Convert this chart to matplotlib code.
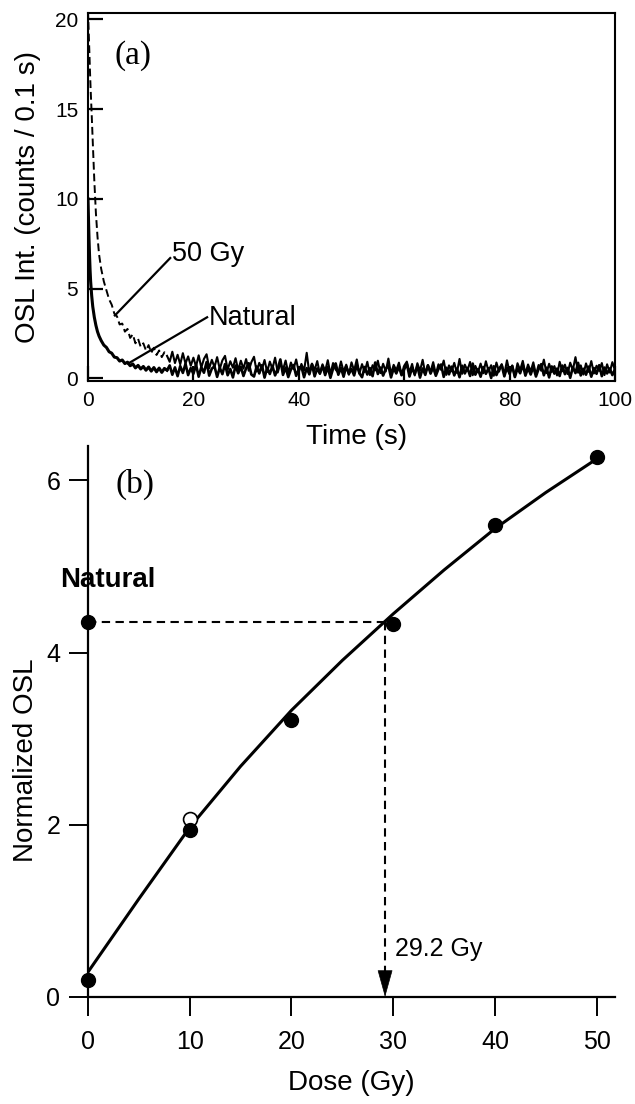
import numpy as np
import matplotlib

matplotlib.use('Agg')
import matplotlib.pyplot as plt

plt.rcParams['font.family'] = ['Liberation Sans', 'DejaVu Sans']

# ---- panel (a): OSL decay curves ----
t_early = [0, 0.1, 0.2, 0.3, 0.4, 0.5, 0.7, 0.9, 1.2, 1.5, 1.8, 2.1, 2.5,
           3.0, 3.5, 4.0, 4.5, 5.0, 5.5, 6.0, 6.5, 7.0, 7.5, 8.0, 8.5, 9.0,
           9.5, 10, 10.5, 11, 11.5, 12, 12.5, 13, 13.5, 14, 14.5, 15]
natural_early = [10.0, 8.8, 7.7, 6.8, 6.0, 5.4, 4.6, 4.0, 3.4, 2.95, 2.6, 2.35, 2.1,
                 1.85, 1.72, 1.48, 1.40, 1.18, 1.15, 0.96, 1.02, 0.82, 0.90, 0.70, 0.80, 0.58,
                 0.72, 0.52, 0.66, 0.45, 0.63, 0.40, 0.60, 0.36, 0.57, 0.33, 0.55, 0.45]
gy50_early = [20.5, 19.6, 18.7, 17.8, 16.9, 16.1, 14.7, 13.2, 11.0, 9.2, 7.9, 6.9, 6.1,
              5.4, 4.9, 4.4, 4.1, 3.6, 3.45, 3.0, 3.05, 2.6, 2.75, 2.25, 2.45, 1.95,
              2.2, 1.75, 1.95, 1.55, 1.85, 1.42, 1.70, 1.30, 1.55, 1.18, 1.45, 1.25]

# tail, every 0.5 s from 15 s to 100 s
t_tail = np.arange(15, 100.01, 0.5)
natural_tail = [
    0.45, 0.72, 0.20, 0.61, 0.12, 0.68, 0.30, 0.81, 0.18, 0.57,
    0.25, 0.76, 0.09, 0.62, 0.31, 0.90, 0.15, 0.54, 0.67, 0.08,
    0.59, 0.23, 0.79, 0.17, 0.52, 0.05, 0.71, 0.28, 0.64, 0.13,
    0.56, 0.84, 0.21, 0.10, 0.66, 0.27, 0.73, 0.04, 0.58, 0.24,
    0.69, 0.16, 0.53, 1.05, 0.19, 0.60, 0.07, 0.49, 0.74, 0.14,
    0.51, 0.65, 0.06, 0.57, 0.22, 0.78, 0.11, 0.55, 0.26, 0.70,
    0.18, 0.62, 0.03, 0.54, 0.83, 0.20, 0.59, 0.09, 0.67, 0.25,
    0.52, 0.16, 0.75, 0.28, 0.06, 0.63, 0.21, 0.57, 0.12, 0.88,
    0.24, 0.60, 0.15, 0.53, 0.71, 0.05, 0.56, 0.27, 0.66, 0.17,
    0.50, 0.80, 0.10, 0.58, 0.23, 0.68, 0.04, 0.55, 0.19, 0.72,
    0.26, 0.61, 0.14, 0.52, 0.77, 0.08, 0.59, 0.22, 0.65, 0.16,
    0.54, 0.06, 0.70, 0.27, 0.58, 0.13, 0.82, 0.20, 0.51, 0.09,
    0.63, 0.25, 0.56, 0.02, 0.67, 0.18, 0.53, 0.74, 0.11, 0.60,
    0.24, 0.69, 0.07, 0.55, 0.28, 0.76, 0.15, 0.57, 0.21, 0.64,
    0.10, 0.52, 0.79, 0.17, 0.59, 0.05, 0.66, 0.26, 0.54, 0.13,
    0.71, 0.23, 0.58, 0.03, 0.62, 0.29, 0.86, 0.16, 0.53, 0.20,
    0.65, 0.09, 0.57, 0.25, 0.73, 0.12, 0.60, 0.27, 0.55, 0.18,
    0.51]
gy50_tail = [
    1.25, 0.92, 1.48, 0.85, 1.31, 0.78, 1.40, 0.82, 1.22, 0.70,
    1.15, 0.66, 1.28, 0.60, 1.08, 1.34, 0.56, 1.03, 0.62, 1.18,
    0.52, 1.00, 1.25, 0.48, 0.95, 0.59, 1.12, 0.45, 0.98, 0.54,
    1.07, 0.42, 0.90, 1.20, 0.38, 0.86, 0.50, 1.02, 0.35, 0.93,
    0.53, 1.15, 0.32, 0.84, 0.47, 0.99, 0.30, 0.88, 0.51, 1.05,
    0.34, 0.80, 0.43, 1.42, 0.28, 0.82, 0.46, 0.96, 0.25, 0.78,
    0.40, 1.01, 0.23, 0.85, 0.48, 0.31, 0.94, 0.37, 0.76, 0.20,
    0.89, 0.42, 1.05, 0.26, 0.79, 0.35, 0.92, 0.18, 0.73, 0.44,
    0.98, 0.29, 0.81, 0.38, 1.10, 0.24, 0.75, 0.45, 0.87, 0.21,
    0.70, 0.93, 0.32, 0.80, 0.16, 0.84, 0.41, 1.03, 0.27, 0.74,
    0.36, 0.90, 0.23, 0.78, 0.47, 0.99, 0.19, 0.72, 0.39, 0.86,
    0.30, 1.08, 0.25, 0.76, 0.43, 0.91, 0.17, 0.69, 0.34, 0.82,
    0.28, 0.95, 0.40, 0.73, 0.14, 0.88, 0.37, 0.79, 0.22, 1.00,
    0.33, 0.71, 0.10, 0.84, 0.45, 0.97, 0.26, 0.77, 0.38, 0.89,
    0.20, 0.74, 0.42, 1.04, 0.29, 0.81, 0.35, 0.68, 0.16, 0.92,
    0.39, 0.76, 0.24, 0.87, 0.46, 1.18, 0.31, 0.72, 0.21, 0.83,
    0.36, 0.96, 0.27, 0.70, 0.41, 0.85, 0.18, 0.78, 0.32, 0.90,
    0.44]

# ---- panel (b): dose response ----
dose = [0, 10, 20, 30, 40, 50]
norm_osl = [0.20, 1.94, 3.22, 4.33, 5.48, 6.27]
recycle_dose = [10]
recycle_osl = [2.07]
natural_osl = 4.36
de = 29.2
fit_dose = [0, 5, 10, 15, 20, 25, 30, 35, 40, 45, 50]
fit_osl = [0.29, 1.14, 1.97, 2.68, 3.33, 3.91, 4.45, 4.96, 5.44, 5.86, 6.25]

fig = plt.figure(figsize=(6.35, 11.04), dpi=100)

# panel (a)
ax1 = fig.add_axes([88 / 635, 1 - 381 / 1104, 527 / 635, 368 / 1104])
ax1.plot(t_early, natural_early, color='k', lw=2.2)
ax1.plot(t_tail, natural_tail, color='k', lw=1.9)
ax1.plot(t_early, gy50_early, color='k', lw=1.4, dashes=(4, 2))
ax1.plot(t_tail, gy50_tail, color='k', lw=1.5)
ax1.set_xlim(0, 100)
ax1.set_ylim(-0.15, 20.35)
ax1.set_xticks([0, 20, 40, 60, 80, 100])
ax1.set_yticks([0, 5, 10, 15, 20])
ax1.tick_params(direction='in', length=11, width=1.6, labelsize=15, pad=7)
for s in ax1.spines.values():
    s.set_linewidth(1.5)
ax1.set_xlabel('Time (s)', fontsize=20)
ax1.set_ylabel('OSL Int. (counts / 0.1 s)', fontsize=20, va='center')
ax1.xaxis.set_label_coords(0.509, -0.117)
ax1.yaxis.set_label_coords(-0.114, 0.5)
ax1.text(0.085, 0.885, '(a)', transform=ax1.transAxes, fontsize=24,
         family='Liberation Serif', ha='center', va='center')
ax1.plot([15.6, 5.1], [6.7, 3.5], color='k', lw=1.6)
ax1.text(15.9, 6.55, '50 Gy', fontsize=19.5, ha='left', va='baseline')
ax1.plot([22.6, 7.6], [3.4, 0.82], color='k', lw=1.6)
ax1.text(22.9, 2.95, 'Natural', fontsize=19.5, ha='left', va='baseline')

# panel (b)
ax2 = fig.add_axes([88 / 635, 1 - 997 / 1104, 527 / 635, 551 / 1104])
ax2.patch.set_visible(False)
ax2.plot(fit_dose, fit_osl, color='k', lw=2.2, zorder=2)
ax2.plot(dose, norm_osl, 'o', color='k', ms=10, zorder=4, clip_on=False)
ax2.plot(recycle_dose, recycle_osl, 'o', mfc='white', mec='k', mew=1.2,
         ms=10, zorder=3)
ax2.plot([0], [natural_osl], 'o', color='k', ms=10, zorder=4, clip_on=False)
ax2.plot([0, de], [natural_osl, natural_osl], color='k', lw=1.5, dashes=(4, 2.6))
ax2.plot([de, de], [natural_osl, 0.3], color='k', lw=1.5, dashes=(4, 2.6))
ax2.annotate('', xy=(de, 0), xytext=(de, 0.29),
             arrowprops=dict(arrowstyle='-|>,head_length=1.8,head_width=0.5',
                             mutation_scale=10, color='k', lw=0.5,
                             shrinkA=0, shrinkB=0))
ax2.text(de + 1.0, 0.48, '%.1f Gy' % de, fontsize=18, ha='left', va='baseline')
ax2.text(1.9, 4.84, 'Natural', fontsize=20, fontweight='bold', ha='center',
         va='center')
ax2.text(0.09, 0.93, '(b)', transform=ax2.transAxes, fontsize=24,
         family='Liberation Serif', ha='center', va='center')
ax2.set_xlim(0, 51.8)
ax2.set_ylim(0, 6.4)
ax2.set_xticks([0, 10, 20, 30, 40, 50])
ax2.set_yticks([0, 2, 4, 6])
ax2.spines['top'].set_visible(False)
ax2.spines['right'].set_visible(False)
for s in ['left', 'bottom']:
    ax2.spines[s].set_linewidth(1.6)
ax2.tick_params(direction='out', length=14, width=1.4, labelsize=18)
ax2.tick_params(axis='x', pad=10)
ax2.tick_params(axis='y', pad=6)
ax2.set_xlabel('Dose (Gy)', fontsize=20)
ax2.set_ylabel('Normalized OSL', fontsize=20, va='center')
ax2.xaxis.set_label_coords(0.5, -0.132)
ax2.yaxis.set_label_coords(-0.118, 0.43)

fig.savefig('out.png', dpi=100, facecolor='w')
